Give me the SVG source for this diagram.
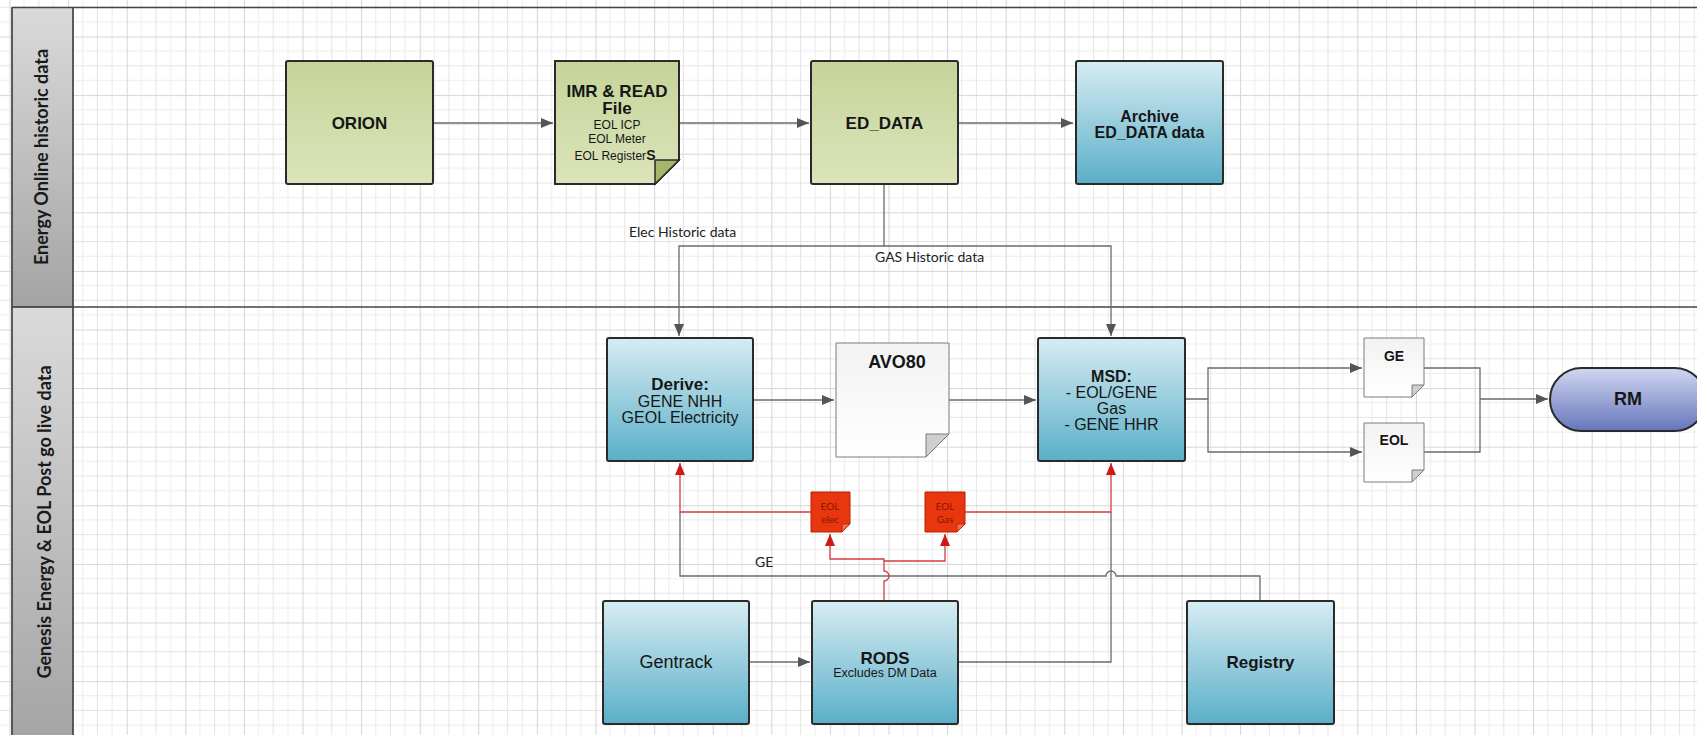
<svg xmlns="http://www.w3.org/2000/svg" width="1697" height="735" viewBox="0 0 1697 735">
<defs>
  <pattern id="grid" patternUnits="userSpaceOnUse" x="9.5" y="36.5" width="58.6" height="58.6">
    <rect width="58.6" height="58.6" fill="#ffffff"/>
    <path d="M14.65,0V58.6M43.95,0V58.6M0,14.65H58.6M0,43.95H58.6" stroke="#ececec" stroke-width="1" fill="none"/>
    <path d="M29.3,0V58.6M0,29.3H58.6" stroke="#e4e4e4" stroke-width="1" fill="none"/>
    <path d="M0.5,0V58.6M0,0.5H58.6" stroke="#d6d6d6" stroke-width="1" fill="none"/>
  </pattern>
  <linearGradient id="hdr" x1="0" y1="0" x2="0" y2="1">
    <stop offset="0" stop-color="#dadada"/>
    <stop offset="1" stop-color="#a4a4a4"/>
  </linearGradient>
  <linearGradient id="green" x1="0" y1="0" x2="0" y2="1">
    <stop offset="0" stop-color="#c5d499"/>
    <stop offset="1" stop-color="#dbe4ba"/>
  </linearGradient>
  <linearGradient id="blue" x1="0" y1="0" x2="0" y2="1">
    <stop offset="0" stop-color="#d7ecf3"/>
    <stop offset="1" stop-color="#5aafc8"/>
  </linearGradient>
  <linearGradient id="paper" x1="0" y1="0" x2="0" y2="1">
    <stop offset="0" stop-color="#f2f2f2"/>
    <stop offset="1" stop-color="#ffffff"/>
  </linearGradient>
  <linearGradient id="pill" x1="0" y1="0" x2="0" y2="1">
    <stop offset="0" stop-color="#d0d7f0"/>
    <stop offset="1" stop-color="#6676bc"/>
  </linearGradient>
  <marker id="arr" viewBox="0 0 12 10" refX="12" refY="5" markerWidth="12" markerHeight="10" markerUnits="userSpaceOnUse" orient="auto">
    <path d="M0,0L12,5L0,10Z" fill="#555555"/>
  </marker>
  <marker id="arrR" viewBox="0 0 12 10" refX="12" refY="5" markerWidth="12" markerHeight="10" markerUnits="userSpaceOnUse" orient="auto">
    <path d="M0,0L12,5L0,10Z" fill="#cc1a1a"/>
  </marker>
  <style>
    .box{stroke:#2a2a2a;stroke-width:2}
    .g{fill:url(#green)}
    .b{fill:url(#blue)}
    .t{font-family:"Liberation Sans",Arial,sans-serif;fill:#161616;text-anchor:middle}
    .bold{font-weight:bold}
    .big{font-size:17px}
    .mid{font-size:16px}
    .sm{font-size:12px}
    .lane{font-family:Lato,"Open Sans",sans-serif;font-weight:bold;font-size:18px;fill:#1a1a1a;text-anchor:middle}
    .lbl{font-family:Lato,"Open Sans",sans-serif;font-size:14px;fill:#222}
    .c{fill:none;stroke:#6b6b6b;stroke-width:1.3}
    .r{fill:none;stroke:#d43c3c;stroke-width:1.3}
    .note{stroke:#7a7a7a;stroke-width:1;fill:url(#paper)}
    .fold{stroke:#7a7a7a;stroke-width:1;fill:#cfcfcf}
    .rn{fill:#e8360f;stroke:#b82000;stroke-width:1}
    .rt{font-family:Lato,"Open Sans",sans-serif;font-size:10px;fill:#8a1500;text-anchor:middle}
  </style>
</defs>

<rect x="0" y="0" width="1697" height="735" fill="url(#grid)"/>

<g id="lanes">
  <rect x="12" y="7.5" width="61" height="299.5" fill="url(#hdr)" stroke="#555" stroke-width="1"/>
  <rect x="12" y="307" width="61" height="440" fill="url(#hdr)" stroke="#555" stroke-width="1"/>
  <path d="M12,7.5H1697M12,307H1697M12,7.5V735M73,7.5V735" stroke="#444" stroke-width="1.5" fill="none"/>
  <text class="lane" transform="translate(48,157) rotate(-90)">Energy Online historic data</text>
  <text class="lane" transform="translate(51,522) rotate(-90)">Genesis Energy &amp; EOL Post go live data</text>
</g>

<g id="connectors">
  <path class="c" d="M433,123H553" marker-end="url(#arr)"/>
  <path class="c" d="M679,123H809" marker-end="url(#arr)"/>
  <path class="c" d="M958,123H1073" marker-end="url(#arr)"/>
  <path class="c" d="M884,184V246H679V336" marker-end="url(#arr)"/>
  <path class="c" d="M884,246H1111V336" marker-end="url(#arr)"/>
  <path class="c" d="M753,400H834" marker-end="url(#arr)"/>
  <path class="c" d="M949,400H1036" marker-end="url(#arr)"/>
  <path class="c" d="M1185,399H1208V368H1362" marker-end="url(#arr)"/>
  <path class="c" d="M1208,399V452H1362" marker-end="url(#arr)"/>
  <path class="c" d="M1424,368H1480V452H1424M1480,399H1548" marker-end="url(#arr)"/>
  <path class="c" d="M749,662H810" marker-end="url(#arr)"/>
  <path class="c" d="M958,662H1111V512"/>
  <path class="c" d="M1260,601V576H1116A5,5 0 0 0 1106,576H680V512"/>
  <path class="r" d="M811,512H680V463" marker-end="url(#arrR)"/>
  <path class="r" d="M965,512H1111V463" marker-end="url(#arrR)"/>
  <path class="r" d="M884,601V581A5,5 0 0 0 884,571V561H945V534" marker-end="url(#arrR)"/>
  <path class="r" d="M884,561V559H830V534" marker-end="url(#arrR)"/>
  <text class="lbl" x="629" y="237">Elec Historic data</text>
  <text class="lbl" x="875" y="262">GAS Historic data</text>
  <text class="lbl" x="755" y="567">GE</text>
</g>

<g id="orion">
  <rect class="box g" x="286" y="61" width="147" height="123" rx="2"/>
  <text class="t bold big" x="359.5" y="129">ORION</text>
</g>

<g id="imr">
  <path class="box g" d="M555,61H679V160L655,184H555Z"/>
  <path d="M655,184V160H679Z" fill="#a6b66a" stroke="#2a2a2a" stroke-width="1.5"/>
  <text class="t bold big" x="617" y="97">IMR &amp; READ</text>
  <text class="t bold big" x="617" y="114">File</text>
  <text class="t sm" x="617" y="129">EOL ICP</text>
  <text class="t sm" x="617" y="143">EOL Meter</text>
  <text class="t sm" x="615" y="160">EOL Register<tspan class="bold" font-size="14">S</tspan></text>
</g>

<g id="ed_data">
  <rect class="box g" x="811" y="61" width="147" height="123" rx="2"/>
  <text class="t bold big" x="884.5" y="129">ED_DATA</text>
</g>

<g id="archive">
  <rect class="box b" x="1076" y="61" width="147" height="123" rx="2"/>
  <text class="t bold mid" x="1149.5" y="122">Archive</text>
  <text class="t bold mid" x="1149.5" y="138">ED_DATA data</text>
</g>

<g id="derive">
  <rect class="box b" x="607" y="338" width="146" height="123" rx="2"/>
  <text class="t bold big" x="680" y="390">Derive:</text>
  <text class="t mid" x="680" y="407">GENE NHH</text>
  <text class="t mid" x="680" y="423">GEOL Electricity</text>
</g>

<g id="avo80">
  <path class="note" d="M836,343H949V434L926,457H836Z"/>
  <path class="fold" d="M926,457V434H949Z"/>
  <text class="t bold" font-size="18" x="897" y="368">AVO80</text>
</g>

<g id="msd">
  <rect class="box b" x="1038" y="338" width="147" height="123" rx="2"/>
  <text class="t bold mid" x="1111.5" y="382">MSD:</text>
  <text class="t mid" x="1111.5" y="398">- EOL/GENE</text>
  <text class="t mid" x="1111.5" y="414">Gas</text>
  <text class="t mid" x="1111.5" y="430">- GENE HHR</text>
</g>

<g id="ge_file">
  <path class="note" d="M1364,338H1424V385L1412,397H1364Z"/>
  <path class="fold" d="M1412,397V385H1424Z"/>
  <text class="t bold" font-size="14" x="1394" y="361">GE</text>
</g>

<g id="eol_file">
  <path class="note" d="M1364,423H1424V470L1412,482H1364Z"/>
  <path class="fold" d="M1412,482V470H1424Z"/>
  <text class="t bold" font-size="14" x="1394" y="445">EOL</text>
</g>

<g id="rm">
  <rect class="box" fill="url(#pill)" x="1550" y="368" width="156" height="63" rx="31.5"/>
  <text class="t bold" font-size="18" x="1628" y="405">RM</text>
</g>

<g id="eol_elec">
  <path class="rn" d="M811,492H850V524L842,532H811Z"/>
  <path d="M842,532V524H850Z" fill="#f07050" stroke="#b82000" stroke-width="0.8"/>
  <text class="rt" x="830" y="510">EOL</text>
  <text class="rt" x="830" y="523">elec</text>
</g>

<g id="eol_gas">
  <path class="rn" d="M925,492H965V524L957,532H925Z"/>
  <path d="M957,532V524H965Z" fill="#f07050" stroke="#b82000" stroke-width="0.8"/>
  <text class="rt" x="945" y="510">EOL</text>
  <text class="rt" x="945" y="523">Gas</text>
</g>

<g id="gentrack">
  <rect class="box b" x="603" y="601" width="146" height="123" rx="2"/>
  <text class="t" font-size="18" x="676" y="668">Gentrack</text>
</g>

<g id="rods">
  <rect class="box b" x="812" y="601" width="146" height="123" rx="2"/>
  <text class="t bold big" x="885" y="664">RODS</text>
  <text class="t" font-size="12.5" x="885" y="677">Excludes DM Data</text>
</g>

<g id="registry">
  <rect class="box b" x="1187" y="601" width="147" height="123" rx="2"/>
  <text class="t bold big" x="1260.5" y="668">Registry</text>
</g>
</svg>
